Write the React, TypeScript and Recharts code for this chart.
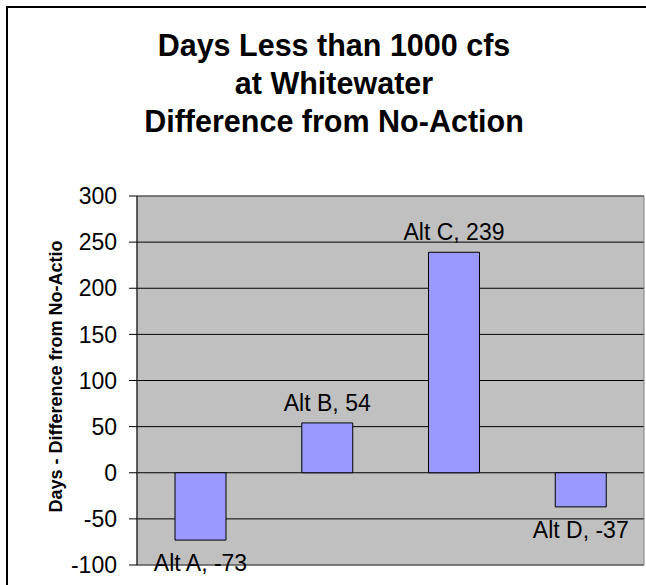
import { BarChart, Bar, XAxis, YAxis, CartesianGrid, LabelList, Label, ReferenceArea } from 'recharts';

const categories = ['Alt A', 'Alt B', 'Alt C', 'Alt D'];
const dayDiffs = [-73, 54, 239, -37];
const yTicks = [-100, -50, 0, 50, 100, 150, 200, 250, 300];
const titleLines = ['Days Less than 1000 cfs', 'at Whitewater', 'Difference from No-Action'];
const yAxisTitle = 'Days - Difference from No-Action';

const FONT = '"Liberation Sans", Arial, Helvetica, sans-serif';

const chartData = categories.map((name, i) => ({ name, days: dayDiffs[i] }));

// Excel style data labels: "Alt X, value" above positive bars, below negative ones
const renderBarLabel = (props: any) => {
  const x = Number(props.x);
  const y = Number(props.y);
  const width = Number(props.width);
  const height = Number(props.height);
  const value = Number(props.value);
  const top = Math.min(y, y + height);
  const bottom = Math.max(y, y + height);
  const ty = value >= 0 ? top - 12 : bottom + 31;
  return (
    <text
      x={x + width / 2}
      y={ty}
      textAnchor="middle"
      fontSize={23}
      fontFamily={FONT}
      fill="#000"
    >
      {`${categories[props.index]}, ${value}`}
    </text>
  );
};

// rotated axis title, clipped at the top like the original
const renderYTitle = (props: any) => {
  const vb = props.viewBox || {};
  const cx = 56;
  const cy = (vb.y ?? 196) + 175;
  return (
    <g clipPath="url(#ytitle-clip)">
      <defs>
        <clipPath id="ytitle-clip" clipPathUnits="userSpaceOnUse">
          <rect x={0} y={240} width={137} height={345} />
        </clipPath>
      </defs>
      <text
        x={cx}
        y={cy}
        transform={`rotate(-90 ${cx} ${cy})`}
        textAnchor="middle"
        dominantBaseline="central"
        fontSize={18}
        fontWeight="bold"
        fontFamily={FONT}
        fill="#000"
      >
        {yAxisTitle}
      </text>
    </g>
  );
};

export default function App() {
  return (
    <div
      style={{
        position: 'fixed',
        left: 0,
        top: 0,
        width: 646,
        height: 585,
        overflow: 'hidden',
        background: '#fff',
      }}
    >
      <div
        style={{
          position: 'absolute',
          left: 6,
          top: 6,
          width: 700,
          height: 650,
          borderTop: '2px solid #000',
          borderLeft: '2px solid #000',
        }}
      />
      <div
        style={{
          position: 'absolute',
          left: 0,
          top: 26,
          width: 668,
          textAlign: 'center',
          fontFamily: FONT,
          fontWeight: 'bold',
          fontSize: 30.5,
          lineHeight: '38px',
          color: '#000',
        }}
      >
        {titleLines.map((t) => (
          <div key={t}>{t}</div>
        ))}
      </div>
      <div style={{ position: 'absolute', left: 0, top: 0 }}>
        <BarChart
          width={646}
          height={585}
          data={chartData}
          margin={{ top: 196, right: 2, bottom: 20, left: 0 }}
          barSize={51}
        >
          <CartesianGrid fill="#c0c0c0" stroke="#000" strokeOpacity={1} vertical={false} />
          <XAxis dataKey="name" type="category" hide />
          <YAxis
            width={137}
            domain={[-100, 300]}
            ticks={yTicks}
            interval={0}
            allowDataOverflow
            axisLine={{ stroke: '#000' }}
            tickLine={{ stroke: '#000' }}
            tickSize={8}
            tickMargin={12}
            tick={{ fill: '#000', fontSize: 23, fontFamily: FONT }}
            label={<Label content={renderYTitle} />}
          />
          <ReferenceArea
            x1={categories[0]}
            x2={categories[categories.length - 1]}
            y1={yTicks[0]}
            y2={yTicks[yTicks.length - 1]}
            fill="none"
            stroke="#808080"
            strokeWidth={1}
            fillOpacity={0}
          />
          <Bar
            dataKey="days"
            fill="#9999ff"
            stroke="#000"
            strokeWidth={1}
            isAnimationActive={false}
          >
            <LabelList dataKey="days" content={renderBarLabel} />
          </Bar>
        </BarChart>
      </div>
    </div>
  );
}
